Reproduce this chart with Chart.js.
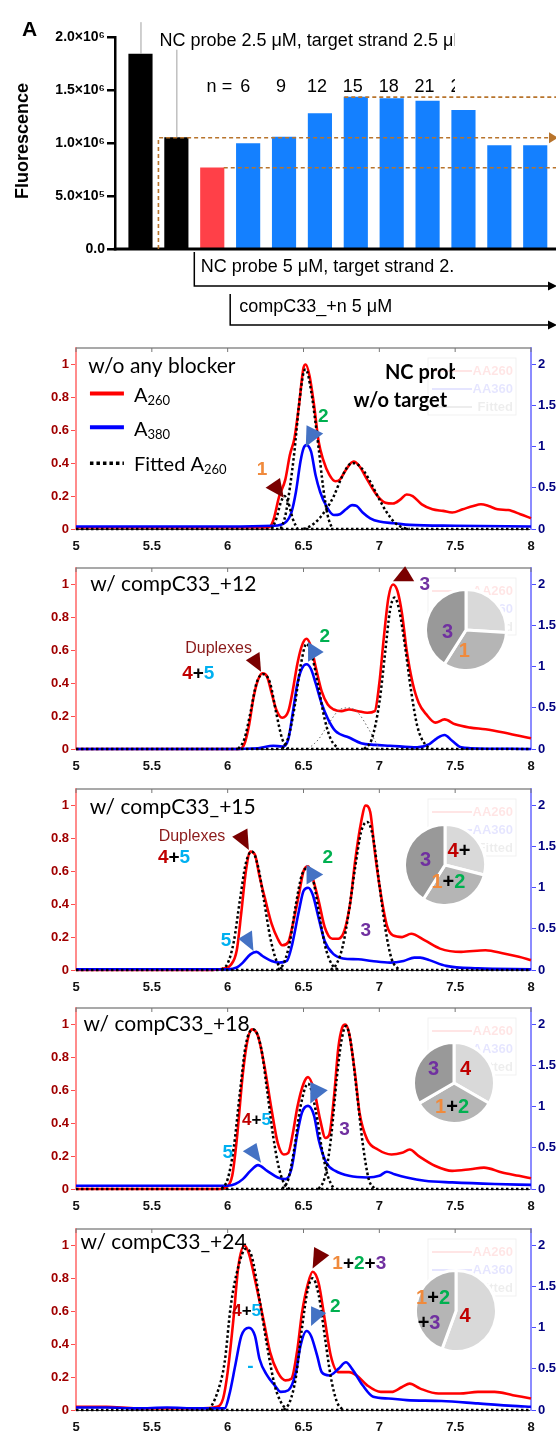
<!DOCTYPE html>
<html><head><meta charset="utf-8">
<script src="https://cdn.jsdelivr.net/npm/chart.js@4.4.1/dist/chart.umd.min.js"></script>
<style>
html,body{margin:0;padding:0;background:#fff;}
#wrap{position:relative;width:556px;height:1432px;overflow:hidden;background:#fff;}
canvas{position:absolute;}
</style></head><body><div id="wrap">
<canvas id="bar" width="610" height="340" style="left:0;top:0;width:610px;height:340px"></canvas>
<canvas id="p1" width="556" height="220" style="left:0;top:338px;width:556px;height:220px"></canvas>
<canvas id="p2" width="556" height="220" style="left:0;top:558px;width:556px;height:220px"></canvas>
<canvas id="p3" width="556" height="220" style="left:0;top:779px;width:556px;height:220px"></canvas>
<canvas id="p4" width="556" height="220" style="left:0;top:998px;width:556px;height:220px"></canvas>
<canvas id="p5" width="556" height="220" style="left:0;top:1219px;width:556px;height:220px"></canvas>
<canvas id="pie2" width="88" height="88" style="left:422px;top:586px;width:88px;height:88px"></canvas>
<canvas id="pie3" width="88" height="88" style="left:401px;top:821px;width:88px;height:88px"></canvas>
<canvas id="pie4" width="88" height="88" style="left:410px;top:1039px;width:88px;height:88px"></canvas>
<canvas id="pie5" width="88" height="88" style="left:412px;top:1267px;width:88px;height:88px"></canvas>
</div>
<script>
// ---------------- DATA: panel A (bar chart) ----------------
const barCats = ['NC 2.5 µM + target', 'NC 5 µM + target', 'w/o blocker', 'n=6', 'n=9', 'n=12', 'n=15', 'n=18', 'n=21', 'n=24', 'n=27', 'n=30'];
const barValues = [1.84e6, 1.05e6, 0.766e6, 0.995e6, 1.057e6, 1.277e6, 1.433e6, 1.42e6, 1.395e6, 1.308e6, 0.976e6, 0.976e6];
const barErrTop = [2.14e6, 1.88e6, null, null, null, null, null, null, null, null, null, null];
const barGroup = ['ctrl', 'ctrl', 'ref', 'blk', 'blk', 'blk', 'blk', 'blk', 'blk', 'blk', 'blk', 'blk'];
const nLabels = ['6', '9', '12', '15', '18', '21', '24', '27', '30'];
const barYTicks = [0, 5e5, 1e6, 1.5e6, 2e6];
const barYTickLabels = ['0.0', '5.0×10⁵', '1.0×10⁶', '1.5×10⁶', '2.0×10⁶'];

// ---------------- DATA: chromatogram panels ----------------
const xRange = [5, 8];
const xTicks = [5, 5.5, 6, 6.5, 7, 7.5, 8];
const xTickLabels = ['5', '5.5', '6', '6.5', '7', '7.5', '8'];
const leftTicks = [0, 0.2, 0.4, 0.6, 0.8, 1];
const leftTickLabels = ['0', '0.2', '0.4', '0.6', '0.8', '1'];
const rightTicks = [0, 0.5, 1, 1.5, 2];
const rightTickLabels = ['0', '0.5', '1', '1.5', '2'];

// Panel 1: w/o any blocker
const p1RedT = [5, 5.5, 6, 6.2, 6.27, 6.3, 6.34, 6.38, 6.41, 6.44, 6.47, 6.5, 6.515, 6.54, 6.57, 6.6, 6.63, 6.67, 6.71, 6.74, 6.78, 6.83, 6.87, 6.92, 6.98, 7.04, 7.09, 7.14, 7.18, 7.22, 7.28, 7.35, 7.42, 7.48, 7.55, 7.62, 7.67, 7.72, 7.78, 7.85, 7.93, 8];
const p1Red = [0.01, 0.01, 0.01, 0.01, 0.01, 0.05, 0.2, 0.3, 0.45, 0.55, 0.75, 0.98, 1.0, 0.93, 0.75, 0.53, 0.42, 0.33, 0.29, 0.3, 0.36, 0.41, 0.38, 0.3, 0.21, 0.16, 0.155, 0.18, 0.21, 0.2, 0.15, 0.12, 0.11, 0.1, 0.12, 0.14, 0.15, 0.14, 0.12, 0.115, 0.09, 0.065];
const p1BlueT = [5, 5.5, 6, 6.3, 6.38, 6.42, 6.45, 6.48, 6.5, 6.52, 6.55, 6.58, 6.61, 6.65, 6.7, 6.74, 6.78, 6.82, 6.85, 6.89, 6.94, 7.0, 7.1, 7.2, 7.5, 8];
const p1Blue = [0.03, 0.03, 0.03, 0.04, 0.08, 0.2, 0.45, 0.82, 0.98, 1.02, 0.94, 0.65, 0.45, 0.28, 0.17, 0.18, 0.24, 0.29, 0.28, 0.2, 0.13, 0.09, 0.07, 0.05, 0.04, 0.03];
const p1Fit1T = [6.29, 6.32, 6.35, 6.375, 6.4, 6.43, 6.46];
const p1Fit1 = [0, 0.06, 0.16, 0.2, 0.16, 0.06, 0];
const p1Fit2T = [6.35, 6.38, 6.41, 6.44, 6.47, 6.5, 6.515, 6.55, 6.58, 6.6, 6.63, 6.66, 6.69];
const p1Fit2 = [0, 0.08, 0.25, 0.47, 0.75, 0.95, 0.97, 0.84, 0.64, 0.49, 0.25, 0.08, 0];
const p1Fit3T = [6.5, 6.55, 6.6, 6.65, 6.7, 6.75, 6.8, 6.83, 6.86, 6.9, 6.95, 7.0, 7.05, 7.1, 7.15, 7.2];
const p1Fit3 = [0, 0.02, 0.06, 0.12, 0.2, 0.31, 0.39, 0.4, 0.39, 0.35, 0.27, 0.18, 0.1, 0.04, 0.01, 0];

// Panel 2: w/ compC33_+12
const p2RedT = [5, 5.5, 6, 6.08, 6.11, 6.14, 6.17, 6.2, 6.23, 6.26, 6.29, 6.32, 6.36, 6.4, 6.43, 6.46, 6.49, 6.52, 6.55, 6.58, 6.62, 6.66, 6.7, 6.75, 6.8, 6.86, 6.92, 6.97, 7.0, 7.03, 7.06, 7.09, 7.12, 7.15, 7.18, 7.22, 7.26, 7.31, 7.37, 7.43, 7.5, 7.6, 7.7, 7.82, 7.92, 8];
const p2Red = [0, 0, 0, 0, 0.03, 0.14, 0.31, 0.42, 0.46, 0.44, 0.34, 0.24, 0.19, 0.23, 0.36, 0.52, 0.63, 0.67, 0.62, 0.5, 0.35, 0.27, 0.24, 0.23, 0.24, 0.23, 0.22, 0.23, 0.4, 0.68, 0.92, 1.0, 0.96, 0.82, 0.6, 0.4, 0.28, 0.21, 0.16, 0.18, 0.15, 0.13, 0.12, 0.1, 0.08, 0.065];
const p2BlueT = [5, 5.5, 6, 6.2, 6.3, 6.36, 6.4, 6.43, 6.46, 6.49, 6.52, 6.55, 6.58, 6.62, 6.66, 6.71, 6.8, 6.88, 6.97, 7.07, 7.25, 7.33, 7.38, 7.43, 7.48, 7.54, 7.6, 8];
const p2Blue = [0, 0, 0, 0.01, 0.04, 0.03, 0.12, 0.45, 0.8, 0.98, 1.03, 0.97, 0.8, 0.55, 0.37, 0.22, 0.14, 0.07, 0.05, 0.04, 0.02, 0.06, 0.13, 0.17, 0.1, 0.02, 0.01, 0];
const p2FitAT = [6.07, 6.11, 6.15, 6.19, 6.235, 6.28, 6.32, 6.36, 6.4];
const p2FitA = [0, 0.06, 0.22, 0.4, 0.455, 0.4, 0.22, 0.06, 0];
const p2FitBT = [6.36, 6.4, 6.44, 6.48, 6.52, 6.56, 6.6, 6.64, 6.68, 6.73];
const p2FitB = [0, 0.07, 0.25, 0.5, 0.64, 0.55, 0.37, 0.18, 0.06, 0];
const p2FitCT = [6.53, 6.6, 6.67, 6.74, 6.8, 6.86, 6.93, 7.0];
const p2FitC = [0, 0.06, 0.16, 0.24, 0.25, 0.22, 0.12, 0];
const p2FitDT = [6.9, 6.95, 7.0, 7.04, 7.07, 7.1, 7.13, 7.17, 7.21, 7.25, 7.3, 7.34];
const p2FitD = [0, 0.06, 0.28, 0.6, 0.84, 0.92, 0.85, 0.62, 0.35, 0.14, 0.03, 0];

// Panel 3: w/ compC33_+15
const p3RedT = [5, 5.5, 5.9, 5.98, 6.02, 6.06, 6.09, 6.12, 6.15, 6.18, 6.21, 6.25, 6.29, 6.33, 6.36, 6.4, 6.43, 6.47, 6.5, 6.53, 6.56, 6.6, 6.64, 6.69, 6.73, 6.77, 6.81, 6.84, 6.88, 6.91, 6.94, 6.97, 7.01, 7.05, 7.09, 7.15, 7.21, 7.3, 7.4, 7.54, 7.7, 7.82, 7.92, 8];
const p3Red = [0, 0, 0, 0.01, 0.03, 0.12, 0.35, 0.6, 0.72, 0.7, 0.57, 0.42, 0.28, 0.19, 0.15, 0.17, 0.28, 0.46, 0.6, 0.63, 0.56, 0.42, 0.26, 0.19, 0.19, 0.24, 0.42, 0.66, 0.9, 1.0, 0.96, 0.72, 0.46, 0.27, 0.21, 0.2, 0.22, 0.18, 0.13, 0.11, 0.12, 0.1, 0.08, 0.06];
const p3BlueT = [5, 5.5, 6, 6.06, 6.1, 6.15, 6.19, 6.23, 6.29, 6.34, 6.39, 6.42, 6.47, 6.5, 6.53, 6.56, 6.6, 6.64, 6.7, 6.76, 6.86, 6.95, 7.07, 7.16, 7.23, 7.27, 7.33, 7.44, 7.65, 8];
const p3Blue = [0.01, 0.01, 0.01, 0.03, 0.09, 0.19, 0.22, 0.17, 0.11, 0.09, 0.11, 0.27, 0.72, 0.96, 1.0, 0.92, 0.63, 0.35, 0.19, 0.14, 0.13, 0.11, 0.09, 0.11, 0.15, 0.15, 0.12, 0.05, 0.02, 0.01];
const p3FitAT = [5.96, 6.0, 6.04, 6.08, 6.12, 6.16, 6.2, 6.24, 6.28, 6.32, 6.36];
const p3FitA = [0, 0.04, 0.17, 0.42, 0.65, 0.72, 0.63, 0.42, 0.2, 0.06, 0];
const p3FitBT = [6.33, 6.37, 6.41, 6.45, 6.49, 6.53, 6.57, 6.61, 6.65, 6.69, 6.73];
const p3FitB = [0, 0.04, 0.17, 0.4, 0.58, 0.62, 0.52, 0.3, 0.12, 0.03, 0];
const p3FitCT = [6.68, 6.72, 6.76, 6.8, 6.84, 6.88, 6.92, 6.96, 7.0, 7.04, 7.08, 7.13];
const p3FitC = [0, 0.04, 0.15, 0.36, 0.62, 0.84, 0.9, 0.8, 0.52, 0.25, 0.07, 0];

// Panel 4: w/ compC33_+18
const p4RedT = [5, 5.5, 5.95, 5.99, 6.03, 6.06, 6.1, 6.13, 6.16, 6.2, 6.24, 6.29, 6.33, 6.37, 6.4, 6.43, 6.46, 6.5, 6.53, 6.57, 6.61, 6.645, 6.67, 6.7, 6.73, 6.755, 6.775, 6.8, 6.84, 6.87, 6.92, 6.99, 7.08, 7.15, 7.2, 7.26, 7.37, 7.48, 7.6, 7.69, 7.81, 7.92, 8];
const p4Red = [0, 0, 0, 0.01, 0.08, 0.3, 0.7, 0.9, 0.97, 0.93, 0.76, 0.48, 0.28, 0.21, 0.22, 0.34, 0.5, 0.64, 0.68, 0.6, 0.42, 0.31, 0.33, 0.55, 0.86, 0.98, 1.0, 0.95, 0.7, 0.46, 0.3, 0.24, 0.21, 0.22, 0.24, 0.2, 0.14, 0.11, 0.12, 0.13, 0.1, 0.08, 0.065];
const p4BlueT = [5, 5.5, 6, 6.05, 6.1, 6.15, 6.2, 6.26, 6.33, 6.38, 6.42, 6.46, 6.49, 6.53, 6.57, 6.6, 6.65, 6.71, 6.8, 6.92, 7.0, 7.05, 7.1, 7.18, 7.3, 7.48, 7.76, 8];
const p4Blue = [0.04, 0.04, 0.04, 0.06, 0.12, 0.22, 0.29, 0.22, 0.14, 0.12, 0.24, 0.68, 0.93, 1.01, 0.89, 0.6, 0.32, 0.22, 0.16, 0.14, 0.16, 0.21, 0.18, 0.14, 0.1, 0.08, 0.06, 0.05];
const p4FitAT = [5.96, 6.0, 6.04, 6.08, 6.12, 6.17, 6.22, 6.26, 6.3, 6.34, 6.38, 6.41];
const p4FitA = [0, 0.06, 0.25, 0.58, 0.88, 0.97, 0.86, 0.6, 0.32, 0.12, 0.02, 0];
const p4FitBT = [6.36, 6.4, 6.44, 6.48, 6.53, 6.58, 6.62, 6.66, 6.7];
const p4FitB = [0, 0.06, 0.25, 0.5, 0.64, 0.48, 0.25, 0.08, 0];
const p4FitCT = [6.6, 6.64, 6.68, 6.72, 6.75, 6.78, 6.81, 6.85, 6.89, 6.93, 6.97];
const p4FitC = [0, 0.07, 0.3, 0.68, 0.9, 0.99, 0.9, 0.6, 0.28, 0.06, 0];

// Panel 5: w/ compC33_+24
const p5RedT = [5, 5.2, 5.4, 5.6, 5.8, 5.93, 5.97, 6.0, 6.04, 6.07, 6.11, 6.14, 6.19, 6.24, 6.28, 6.33, 6.38, 6.42, 6.46, 6.49, 6.53, 6.56, 6.6, 6.64, 6.68, 6.73, 6.8, 6.85, 6.92, 7.01, 7.08, 7.15, 7.2, 7.27, 7.39, 7.53, 7.65, 7.76, 7.88, 8];
const p5Red = [0.02, 0.02, 0.01, 0.01, 0.01, 0.02, 0.07, 0.23, 0.57, 0.87, 1.0, 0.95, 0.75, 0.53, 0.35, 0.23, 0.18, 0.19, 0.37, 0.59, 0.77, 0.84, 0.77, 0.55, 0.33, 0.23, 0.23, 0.21, 0.15, 0.11, 0.11, 0.14, 0.16, 0.13, 0.1, 0.1, 0.11, 0.11, 0.09, 0.07];
const p5BlueT = [5, 5.2, 5.4, 5.6, 5.8, 5.98, 6.01, 6.05, 6.09, 6.14, 6.18, 6.21, 6.26, 6.31, 6.35, 6.4, 6.45, 6.48, 6.52, 6.55, 6.59, 6.62, 6.67, 6.73, 6.78, 6.82, 6.89, 6.96, 7.06, 7.18, 7.41, 7.65, 7.88, 8];
const p5Blue = [0.03, 0.03, 0.02, 0.03, 0.02, 0.02, 0.18, 0.54, 0.9, 1.0, 0.9, 0.62, 0.42, 0.3, 0.22, 0.24, 0.46, 0.78, 0.96, 0.9, 0.66, 0.46, 0.42, 0.5, 0.58, 0.5, 0.3, 0.16, 0.14, 0.12, 0.11, 0.08, 0.05, 0.04];
const p5FitAT = [5.88, 5.93, 5.98, 6.02, 6.07, 6.12, 6.16, 6.21, 6.26, 6.31, 6.35, 6.39];
const p5FitA = [0, 0.1, 0.29, 0.63, 0.87, 0.98, 0.93, 0.67, 0.39, 0.15, 0.05, 0];
const p5FitBT = [6.37, 6.41, 6.45, 6.49, 6.53, 6.56, 6.6, 6.64, 6.68, 6.72, 6.76];
const p5FitB = [0, 0.05, 0.2, 0.5, 0.74, 0.8, 0.7, 0.45, 0.2, 0.05, 0];

// Pie insets (shares, %)
const pie2Shares = [26, 33, 41];
const pie3Shares = [29, 30, 41];
const pie4Shares = [33.3, 33.3, 33.4];
const pie5Shares = [55.6, 44.4];

// ---------------- STYLES ----------------
const COL = {o:'#f08a3c', g:'#00b050', p:'#7030a0', r:'#c00000', c:'#00b0f0', k:'#000', dup:'#8b1a1a', mar:'#7a0000', tb:'#4472c4'};
const F_TITLE = '21px Lato';
const F_LEG = '20px Lato';
const F_SUB = '13px Lato';
const F_BOLDL = 'bold 20px Lato';
const F_NUM = 'bold 19px "Liberation Sans"';
const F_NUMS = 'bold 17px "Liberation Sans"';
const F_DUP = '16px "Liberation Sans"';
const tickFont = {family:'Liberation Sans', weight:'bold', size:13};

function pts(T, V){ return T.map((t,i)=>({x:t, y:V[i]})); }

function drawParts(ctx, parts, px, py, font, align){
  const ws = parts.map(p=>{ ctx.font = p[2]||font; return ctx.measureText(p[0]).width; });
  const tot = ws.reduce((s,w)=>s+w, 0);
  let cx = align==='center' ? px - tot/2 : (align==='right' ? px - tot : px);
  ctx.textAlign = 'left'; ctx.textBaseline = 'middle';
  parts.forEach((p,i)=>{ ctx.font = p[2]||font; ctx.fillStyle = p[1]; ctx.fillText(p[0], cx, py + (p[3]||0)); cx += ws[i]; });
}

// ---------------- BAR CHART ----------------
const barColorOf = {ctrl:'#000000', ref:'#ff4048', blk:'#1480ff'};
const barPlugin = {id:'barAnn', afterDraw(chart){
  const {ctx, chartArea:a, scales:{x, y}} = chart;
  const X = i => x.getPixelForValue(i+1), Y = v => y.getPixelForValue(v);
  ctx.save();
  // error bars
  ctx.strokeStyle = '#a0a0a0'; ctx.lineWidth = 1;
  barErrTop.forEach((e,i)=>{ if(e==null) return; ctx.beginPath(); ctx.moveTo(X(i)+0.5, Y(barValues[i])); ctx.lineTo(X(i)+0.5, Y(e)); ctx.stroke(); });
  // x axis line
  ctx.strokeStyle = '#000'; ctx.lineWidth = 3;
  ctx.beginPath(); ctx.moveTo(a.left-1.25, a.bottom); ctx.lineTo(chart.width, a.bottom); ctx.stroke();
  // dashed reference lines
  const brown = '#b8742c';
  ctx.strokeStyle = brown; ctx.lineWidth = 1.6; ctx.setLineDash([4,3]);
  const yA = Y(barValues[1]), xv = (X(0)+X(1))/2;
  ctx.beginPath(); ctx.moveTo(xv, a.bottom); ctx.lineTo(xv, yA); ctx.lineTo(550, yA); ctx.stroke();
  const yB = Y(barValues[2]);
  ctx.beginPath(); ctx.moveTo(X(2)+11.5, yB); ctx.lineTo(560, yB); ctx.stroke();
  const yC = Y(barValues[6]);
  ctx.beginPath(); ctx.moveTo(X(6)-11.5, yC); ctx.lineTo(560, yC); ctx.stroke();
  ctx.setLineDash([]);
  ctx.fillStyle = brown;
  ctx.beginPath(); ctx.moveTo(549, yA-5.5); ctx.lineTo(558, yA); ctx.lineTo(549, yA+5.5); ctx.closePath(); ctx.fill();
  // brackets
  ctx.strokeStyle = '#000'; ctx.fillStyle = '#000'; ctx.lineWidth = 1.5;
  const xb1 = (X(1)+X(2))/2, xb2 = (X(2)+X(3))/2;
  ctx.beginPath(); ctx.moveTo(xb1, a.bottom+3); ctx.lineTo(xb1, 286); ctx.lineTo(550, 286); ctx.stroke();
  ctx.beginPath(); ctx.moveTo(548, 281.5); ctx.lineTo(557, 286); ctx.lineTo(548, 290.5); ctx.closePath(); ctx.fill();
  ctx.beginPath(); ctx.moveTo(xb2, 294); ctx.lineTo(xb2, 325); ctx.lineTo(550, 325); ctx.stroke();
  ctx.beginPath(); ctx.moveTo(548, 320.5); ctx.lineTo(557, 325); ctx.lineTo(548, 329.5); ctx.closePath(); ctx.fill();
  // "A" and y title
  ctx.fillStyle = '#000'; ctx.textAlign = 'left'; ctx.textBaseline = 'alphabetic';
  ctx.font = 'bold 21px "Liberation Sans"'; ctx.fillText('A', 22, 35.5);
  ctx.save(); ctx.translate(27.5, 141); ctx.rotate(-Math.PI/2);
  ctx.font = 'bold 18px "Liberation Sans"'; ctx.textAlign = 'center'; ctx.fillText('Fluorescence', 0, 0);
  ctx.restore();
  // texts (clipped as in the source figure)
  ctx.save(); ctx.beginPath(); ctx.rect(0, 0, 455, chart.height); ctx.clip();
  ctx.font = '18px "Liberation Sans"'; ctx.fillStyle = '#000'; ctx.textBaseline = 'alphabetic';
  ctx.textAlign = 'left';
  ctx.fillText('NC probe 2.5 μM, target strand 2.5 μM', xv+1, 45.5);
  ctx.textAlign = 'right'; ctx.fillText('n =', X(3)-16, 91.7);
  ctx.textAlign = 'center';
  nLabels.forEach((t,i)=>ctx.fillText(t, X(i+3)-3, 91.7));
  ctx.textAlign = 'left';
  ctx.fillText('NC probe 5 μM, target strand 2.5 μM', xb1+6.5, 271.7);
  ctx.fillText('compC33_+n 5 μM', xb2+9, 311.7);
  ctx.restore();
  ctx.restore();
}};

new Chart(document.getElementById('bar'), {
  type:'bar',
  data:{labels:barCats, datasets:[{
    data: barValues.map((v,i)=>({x:i+1, y:v})),
    backgroundColor: barGroup.map(g=>barColorOf[g]),
    barThickness: 23.5, borderWidth: 0
  }]},
  options:{
    responsive:false, animation:false, devicePixelRatio:1,
    layout:{padding:{top:37, bottom:91, left:0, right:3}},
    plugins:{legend:{display:false}, tooltip:{enabled:false}},
    scales:{
      x:{type:'linear', min:0.29, max:14, offset:false, display:false},
      y:{min:0, max:2e6,
         afterBuildTicks: a=>{ a.ticks = barYTicks.map(v=>({value:v})); },
         afterFit: s=>{ s.width = 115; },
         ticks:{callback:(v,i)=>barYTickLabels[i], font:{family:'Liberation Sans', weight:'bold', size:14}, color:'#000', padding:2},
         grid:{display:true, drawOnChartArea:false, drawTicks:true, tickLength:8, color:'#000', lineWidth:2.5},
         border:{display:true, color:'#000', width:2.5}}
    }
  },
  plugins:[barPlugin]
});

// ---------------- PANELS ----------------
function panelPlugin(cfg){
  return {id:'ann_'+cfg.id, afterDraw(chart){
    const {ctx, chartArea:a, scales} = chart;
    const X = v => scales.x.getPixelForValue(v), Y = v => scales.y.getPixelForValue(v);
    ctx.save();
    // top box line and inward x ticks
    ctx.strokeStyle = '#8c8c8c'; ctx.lineWidth = 1.5;
    ctx.beginPath(); ctx.moveTo(a.left, a.top); ctx.lineTo(a.right, a.top); ctx.stroke();
    ctx.strokeStyle = '#777'; ctx.lineWidth = 1;
    xTicks.forEach(v=>{ const p = X(v); ctx.beginPath(); ctx.moveTo(p, a.top); ctx.lineTo(p, a.top+4); ctx.stroke(); });
    // faint ghost legend box
    const bx = a.right-103, by = a.top+10, bw = 88, bh = 57;
    ctx.strokeStyle = 'rgba(0,0,0,0.06)'; ctx.lineWidth = 1; ctx.strokeRect(bx, by, bw, bh);
    const ghost = [['AA260','rgba(255,0,0,0.10)'],['AA360','rgba(0,0,255,0.10)'],['Fitted','rgba(0,0,0,0.07)']];
    ghost.forEach((g,i)=>{
      const yy = by + 13 + i*18;
      ctx.strokeStyle = g[1]; ctx.lineWidth = 2; ctx.beginPath(); ctx.moveTo(bx+4, yy); ctx.lineTo(bx+44, yy); ctx.stroke();
      ctx.fillStyle = g[1]; ctx.font = 'bold 13px "Liberation Sans"'; ctx.textAlign = 'right'; ctx.textBaseline = 'middle';
      ctx.fillText(g[0], bx+bw-3, yy);
    });
    // notes
    cfg.notes.forEach(n=>{
      if (n.k === 't') {
        ctx.save();
        if (n.clip) { ctx.beginPath(); ctx.rect(0, 0, n.clip, chart.height); ctx.clip(); }
        drawParts(ctx, n.parts, X(n.x), Y(n.y), n.font, n.align);
        ctx.restore();
      } else if (n.k === 'tri') {
        ctx.fillStyle = n.color; ctx.beginPath();
        n.pts.forEach((p,i)=>{ if(i===0) ctx.moveTo(X(p[0]), Y(p[1])); else ctx.lineTo(X(p[0]), Y(p[1])); });
        ctx.closePath(); ctx.fill();
      } else if (n.k === 'l') {
        ctx.strokeStyle = n.color; ctx.lineWidth = n.w; ctx.setLineDash(n.dash||[]);
        ctx.beginPath(); ctx.moveTo(X(n.x0), Y(n.y)); ctx.lineTo(X(n.x1), Y(n.y)); ctx.stroke();
        ctx.setLineDash([]);
      }
    });
    ctx.restore();
  }};
}

function makePanel(cfg){
  const ds = [];
  cfg.fits.forEach(f=>ds.push({data:pts(f[0], f[1]), borderColor:'#000', borderWidth:2.5, borderDash:[2.5,2.5], yAxisID:'y', order:0}));
  (cfg.faintFits||[]).forEach(f=>ds.push({data:pts(f[0], f[1]), borderColor:'#666', borderWidth:1, borderDash:[1.5,2.5], yAxisID:'y', order:0}));
  ds.push({data:pts(xRange, [0,0]), borderColor:'#000', borderWidth:2.5, borderDash:[2.5,2.5], yAxisID:'y', order:0});
  ds.push({data:pts(cfg.blueT, cfg.blue), borderColor:'#0000ff', borderWidth:2.6, yAxisID:'y2', order:1});
  ds.push({data:pts(cfg.redT, cfg.red), borderColor:'#ff0000', borderWidth:2.6, yAxisID:'y', order:2});
  new Chart(document.getElementById(cfg.id), {
    type:'line',
    data:{datasets:ds},
    options:{
      responsive:false, animation:false, devicePixelRatio:1,
      layout:{padding:{top:10, left:0, right:0, bottom:0}},
      plugins:{legend:{display:false}, tooltip:{enabled:false}},
      elements:{point:{radius:0}, line:{cubicInterpolationMode:'monotone', fill:false}},
      datasets:{line:{clip:6}},
      scales:{
        x:{type:'linear', min:xRange[0], max:xRange[1],
           afterBuildTicks: s=>{ s.ticks = xTicks.map(v=>({value:v})); },
           afterFit: s=>{ s.height = 29; },
           ticks:{callback:(v,i)=>xTickLabels[i], font:tickFont, color:'#111', padding:2, maxRotation:0, autoSkip:false},
           grid:{display:false}, border:{display:true, color:'#333', width:1}},
        y:{position:'left', min:0, max:1.1,
           afterBuildTicks: s=>{ s.ticks = leftTicks.map(v=>({value:v})); },
           afterFit: s=>{ s.width = 76; },
           ticks:{callback:(v,i)=>leftTickLabels[i], font:tickFont, color:'#a00000', padding:2},
           grid:{display:true, drawOnChartArea:false, drawTicks:true, tickLength:5, color:'#ff4d4d', lineWidth:1},
           border:{display:true, color:'#ff8c8c', width:2}},
        y2:{position:'right', min:0, max:2.2,
           afterBuildTicks: s=>{ s.ticks = rightTicks.map(v=>({value:v})); },
           afterFit: s=>{ s.width = 25; },
           ticks:{callback:(v,i)=>rightTickLabels[i], font:tickFont, color:'#000080', padding:2},
           grid:{display:true, drawOnChartArea:false, drawTicks:true, tickLength:5, color:'#4d4dff', lineWidth:1},
           border:{display:true, color:'#8c8cff', width:2}}
      }
    },
    plugins:[panelPlugin(cfg)]
  });
}

const K = COL.k;
const num = (x, y, t, c, align) => ({k:'t', x, y, parts:[[t, c]], font:F_NUM, align:align||'center'});
const four5 = (x, y, font, align) => ({k:'t', x, y, parts:[['4',COL.r],['+',K],['5',COL.c]], font, align});
const title = (x, y, t) => ({k:'t', x, y, parts:[[t, K]], font:F_TITLE});

makePanel({id:'p1', redT:p1RedT, red:p1Red, blueT:p1BlueT, blue:p1Blue,
  fits:[[p1Fit1T,p1Fit1],[p1Fit2T,p1Fit2],[p1Fit3T,p1Fit3]],
  notes:[
    title(5.08, 0.99, 'w/o any blocker'),
    {k:'l', x0:5.092, x1:5.316, y:0.824, color:'#ff0000', w:4},
    {k:'t', x:5.382, y:0.81, parts:[['A',K],['260',K,F_SUB,5]], font:F_LEG},
    {k:'l', x0:5.092, x1:5.316, y:0.618, color:'#0000ff', w:4},
    {k:'t', x:5.382, y:0.604, parts:[['A',K],['380',K,F_SUB,5]], font:F_LEG},
    {k:'l', x0:5.092, x1:5.316, y:0.40, color:'#000', w:3.5, dash:[3.5,3]},
    {k:'t', x:5.382, y:0.39, parts:[['Fitted A',K],['260',K,F_SUB,5]], font:F_LEG},
    {k:'t', x:7.037, y:0.95, parts:[['NC probe',K]], font:F_BOLDL, clip:455},
    {k:'t', x:6.83, y:0.78, parts:[['w/o target',K]], font:F_BOLDL, clip:455},
    num(6.226, 0.36, '1', COL.o),
    {k:'tri', pts:[[6.25,0.25],[6.345,0.31],[6.37,0.19]], color:COL.mar},
    {k:'tri', pts:[[6.63,0.58],[6.52,0.63],[6.515,0.50]], color:COL.tb},
    num(6.63, 0.68, '2', COL.g)
  ]});

makePanel({id:'p2', redT:p2RedT, red:p2Red, blueT:p2BlueT, blue:p2Blue,
  fits:[[p2FitAT,p2FitA],[p2FitBT,p2FitB],[p2FitDT,p2FitD]], faintFits:[[p2FitCT,p2FitC]],
  notes:[
    title(5.094, 1.0, 'w/ compC33_+12'),
    {k:'t', x:5.72, y:0.61, parts:[['Duplexes',COL.dup]], font:F_DUP},
    four5(5.70, 0.46, F_NUM),
    {k:'tri', pts:[[6.22,0.47],[6.12,0.54],[6.21,0.59]], color:COL.mar},
    {k:'tri', pts:[[6.633,0.59],[6.53,0.65],[6.53,0.53]], color:COL.tb},
    num(6.64, 0.68, '2', COL.g),
    {k:'tri', pts:[[7.09,1.02],[7.17,1.11],[7.23,1.02]], color:COL.mar},
    num(7.30, 1.0, '3', COL.p)
  ]});

makePanel({id:'p3', redT:p3RedT, red:p3Red, blueT:p3BlueT, blue:p3Blue,
  fits:[[p3FitAT,p3FitA],[p3FitBT,p3FitB],[p3FitCT,p3FitC]],
  notes:[
    title(5.09, 0.99, 'w/ compC33_+15'),
    {k:'t', x:5.545, y:0.81, parts:[['Duplexes',COL.dup]], font:F_DUP},
    four5(5.54, 0.68, F_NUM),
    {k:'tri', pts:[[6.14,0.73],[6.03,0.81],[6.13,0.86]], color:COL.mar},
    num(6.66, 0.68, '2', COL.g),
    {k:'tri', pts:[[6.63,0.58],[6.52,0.64],[6.52,0.52]], color:COL.tb},
    num(5.99, 0.18, '5', COL.c),
    {k:'tri', pts:[[6.07,0.19],[6.16,0.24],[6.17,0.115]], color:COL.tb},
    num(6.91, 0.24, '3', COL.p)
  ]});

makePanel({id:'p4', redT:p4RedT, red:p4Red, blueT:p4BlueT, blue:p4Blue,
  fits:[[p4FitAT,p4FitA],[p4FitBT,p4FitB],[p4FitCT,p4FitC]],
  notes:[
    title(5.05, 1.0, 'w/ compC33_+18'),
    four5(6.19, 0.42, F_NUMS, 'center'),
    num(6.0, 0.22, '5', COL.c),
    {k:'tri', pts:[[6.10,0.23],[6.19,0.28],[6.22,0.16]], color:COL.tb},
    {k:'tri', pts:[[6.66,0.60],[6.545,0.65],[6.545,0.52]], color:COL.tb},
    num(6.77, 0.36, '3', COL.p)
  ]});

makePanel({id:'p5', redT:p5RedT, red:p5Red, blueT:p5BlueT, blue:p5Blue,
  fits:[[p5FitAT,p5FitA],[p5FitBT,p5FitB]],
  notes:[
    title(5.03, 1.02, 'w/ compC33_+24'),
    {k:'tri', pts:[[6.67,0.94],[6.57,0.99],[6.56,0.86]], color:COL.mar},
    {k:'t', x:6.69, y:0.89, parts:[['1',COL.o],['+',K],['2',COL.g],['+',K],['3',COL.p]], font:F_NUM},
    four5(6.125, 0.60, F_NUMS, 'center'),
    {k:'tri', pts:[[6.65,0.59],[6.55,0.63],[6.55,0.51]], color:COL.tb},
    num(6.71, 0.63, '2', COL.g),
    num(6.15, 0.26, '-', COL.c)
  ]});

// ---------------- PIES ----------------
const PIE_L = '#d9d9d9', PIE_M = '#b5b5b5', PIE_D = '#999999';
const F_PIE = 'bold 20px "Liberation Sans"';
function makePie(id, shares, colors, labels){
  new Chart(document.getElementById(id), {
    type:'pie',
    data:{datasets:[{data:shares, backgroundColor:colors, borderColor:'#fff', borderWidth:3, hoverOffset:0}]},
    options:{responsive:false, animation:false, devicePixelRatio:1, layout:{padding:2},
      plugins:{legend:{display:false}, tooltip:{enabled:false}}},
    plugins:[{id:'pl_'+id, afterDraw(chart){
      const ctx = chart.ctx, meta = chart.getDatasetMeta(0);
      ctx.save();
      meta.data.forEach((arc,i)=>{
        const lab = labels[i]; if(!lab) return;
        const p = arc.tooltipPosition(true);
        const n = lab.lines.length;
        lab.lines.forEach((ln,j)=>drawParts(ctx, ln, p.x + lab.dx + (lab.lx ? lab.lx[j] : 0), p.y + lab.dy + (j - (n-1)/2)*25, F_PIE, 'center'));
      });
      ctx.restore();
    }}]
  });
}
makePie('pie2', pie2Shares, [PIE_L, PIE_M, PIE_D], [null,
  {dx:-11, dy:3, lines:[[['1',COL.o]]]},
  {dx:1, dy:8, lines:[[['3',COL.p]]]}]);
makePie('pie3', pie3Shares, [PIE_L, PIE_M, PIE_D], [
  {dx:-2, dy:-1, lines:[[['4',COL.r],['+',K]]]},
  {dx:-4, dy:-1, lines:[[['1',COL.o],['+',K],['2',COL.g]]]},
  {dx:0, dy:1, lines:[[['3',COL.p]]]}]);
makePie('pie4', pie4Shares, [PIE_L, PIE_M, PIE_D], [
  {dx:-6, dy:-3, lines:[[['4',COL.r]]]},
  {dx:-2, dy:4, lines:[[['1',COL.o],['+',K],['2',COL.g]]]},
  {dx:-3, dy:-3, lines:[[['3',COL.p]]]}]);
makePie('pie5', pie5Shares, [PIE_L, PIE_M], [
  {dx:-11, dy:2, lines:[[['4',COL.r]]]},
  {dx:-3, dy:4, lx:[0,-4], lines:[[['1',COL.o],['+',K],['2',COL.g]], [['+',K],['3',COL.p]]]}]);
</script>
</body></html>
